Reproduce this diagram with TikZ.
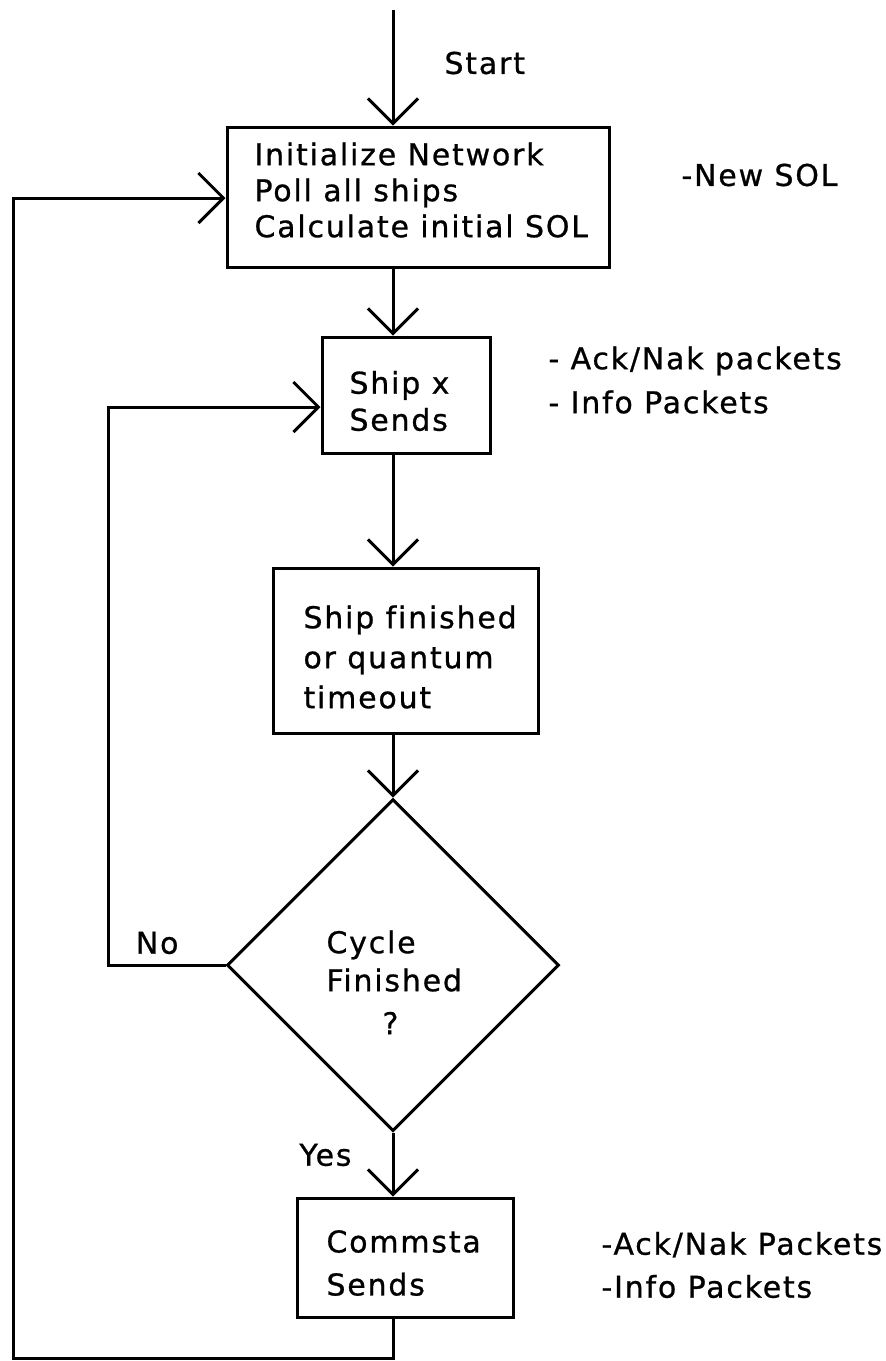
\documentclass[tikz,border=0pt]{standalone}
\usepackage{fontspec}
\setmainfont{DejaVu Sans}[LetterSpace=6,Ligatures={NoCommon},FakeBold=0.8]
\usetikzlibrary{arrows.meta,shapes.geometric}
\begin{document}
\begin{tikzpicture}[x=1pt,y=-1pt,line width=3pt,
  box/.style={draw,rectangle,inner sep=0pt},
  decision/.style={draw,diamond,aspect=1,inner sep=0pt},
  flow/.style={-{Straight Barb[length=25pt,width=50pt]}},
  lbl/.style={inner sep=0pt,align=left,anchor=west,font=\fontsize{30}{#1}\selectfont},
  lbl/.default=38
]
\useasboundingbox (0,0) rectangle (886,1361);

% process boxes and the decision
\node[box,minimum width=382pt,minimum height=140pt] (b1) at (418,197) {};
\node[box,minimum width=168pt,minimum height=116pt] (b2) at (406,395) {};
\node[box,minimum width=265pt,minimum height=165pt] (b3) at (405.5,650.5) {};
\node[decision,minimum width=332pt,minimum height=332pt] (d) at (393,965) {};
\node[box,minimum width=216pt,minimum height=119pt] (b4) at (405,1257.5) {};

% texts inside the shapes
\node[lbl=36] (t1) at (253,190) {Initialize Network\\Poll all ships\\Calculate initial SOL};
\node[lbl=37] (t2) at (348,401) {Ship x\\Sends};
\node[lbl=40] (t3) at (302,657) {Ship finished\\or quantum\\timeout};
\node[lbl=38] (t4) at (325,961) {Cycle\\Finished};
\node[lbl] (t4q) at (381,1023) {?};
\node[lbl=43] (t5) at (325,1263) {Commsta\\Sends};

% side notes
\node[lbl] (start) at (443,63) {Start};
\node[lbl] (n1) at (680,175) {-New SOL};
\node[lbl=44] (n2) at (547,380) {- Ack/Nak packets\\- Info Packets};
\node[lbl=43] (n3) at (600,1265) {-Ack/Nak Packets\\-Info Packets};
\node[lbl,anchor=east] (no) at (180,943) {No};
\node[lbl,anchor=east] (yes) at (353,1155) {Yes};

% connectors
\coordinate (top) at (393,10);
\coordinate (ll) at (13,1358);
\coordinate (lu) at (13,198);
\coordinate (nl) at (108,407);
\draw[flow] (top) -- (top |- b1.north);
\draw[flow] (b1.south -| top) -- (b2.north -| top);
\draw[flow] (b2.south -| top) -- (b3.north -| top);
\draw[flow] (b3.south -| top) -- (d.north);
\draw[flow] (d.south) -- (b4.north -| top);
\draw[flow] (d.west) -| (nl) -- (nl -| b2.west);
\draw[flow] (b4.south -| top) |- (ll) -- (lu) -- (lu -| b1.west);
\end{tikzpicture}
\end{document}
